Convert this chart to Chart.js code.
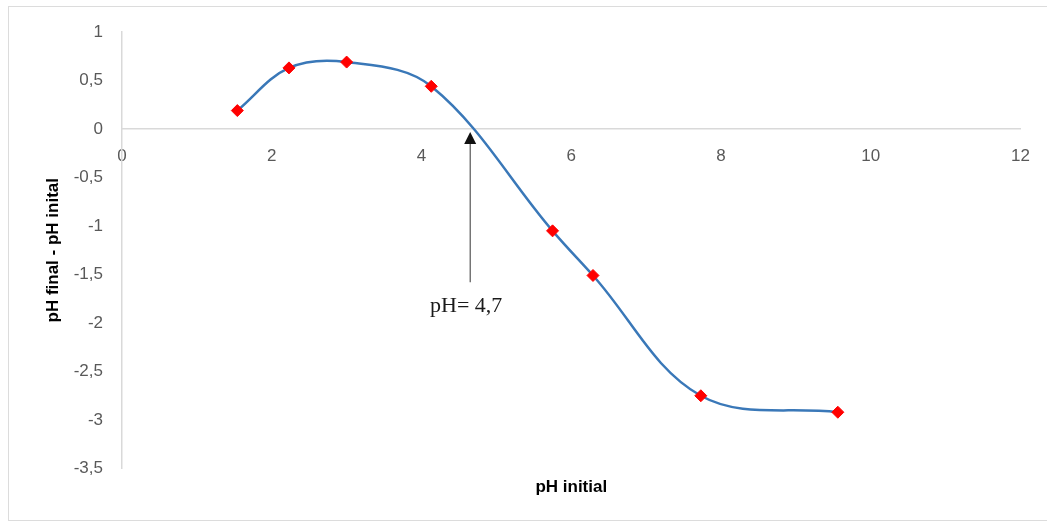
<!DOCTYPE html>
<html>
<head>
<meta charset="utf-8">
<script src="https://cdn.jsdelivr.net/npm/chart.js@4"></script>
<style>
  html, body { margin: 0; padding: 0; background: #fff; overflow: hidden; }
  #wrap { position: relative; width: 1047px; height: 524px; }
  #frame {
    position: absolute; left: 8px; top: 6px; width: 1060px; height: 513px;
    border: 1px solid #dcdcdc; border-right: none;
  }
  canvas { position: absolute; left: 0; top: 0; }
</style>
</head>
<body>
<div id="wrap">
  <div id="frame"></div>
  <canvas id="chart" width="1047" height="524"></canvas>
</div>
<script>
// pH initial vs (pH final - pH initial)
const phInitial = [1.54, 2.23, 3.0, 4.13, 5.75, 6.29, 7.73, 9.56];
const phDelta = [0.19, 0.63, 0.69, 0.44, -1.05, -1.51, -2.75, -2.92];

const xTickValues = [0, 2, 4, 6, 8, 10, 12];
const yTickValues = [1, 0.5, 0, -0.5, -1, -1.5, -2, -2.5, -3, -3.5];

// point of zero charge marker
const pzcX = 4.65;
const pzcArrowEnd = -1.58;
const pzcLabel = 'pH= 4,7';

const tickFont = { family: 'Liberation Sans', size: 17 };
const titleFont = { family: 'Liberation Sans', size: 17, weight: 'bold' };
const comma = v => String(v).replace('.', ',');

const arrowPlugin = {
  id: 'pzcArrow',
  afterDatasetsDraw(chart) {
    const { ctx, scales: { x, y } } = chart;
    const px = x.getPixelForValue(pzcX);
    const tip = y.getPixelForValue(0) + 3;
    const end = y.getPixelForValue(pzcArrowEnd);
    ctx.save();
    ctx.strokeStyle = '#333';
    ctx.fillStyle = '#111';
    ctx.lineWidth = 1;
    ctx.beginPath();
    ctx.moveTo(px, tip + 10);
    ctx.lineTo(px, end);
    ctx.stroke();
    ctx.beginPath();
    ctx.moveTo(px, tip);
    ctx.lineTo(px - 6, tip + 12);
    ctx.lineTo(px + 6, tip + 12);
    ctx.closePath();
    ctx.fill();
    ctx.font = '22px "Liberation Serif"';
    ctx.fillStyle = '#1a1a1a';
    ctx.textAlign = 'center';
    ctx.textBaseline = 'alphabetic';
    ctx.fillText(pzcLabel, px - 4, end + 30);
    ctx.restore();
  }
};

new Chart(document.getElementById('chart'), {
  type: 'scatter',
  data: {
    datasets: [{
      data: phInitial.map((v, i) => ({ x: v, y: phDelta[i] })),
      showLine: true,
      tension: 0.36,
      borderColor: '#3a78b8',
      borderWidth: 2.5,
      pointStyle: 'rectRot',
      pointRadius: 6,
      pointHoverRadius: 6,
      pointBackgroundColor: '#ff0000',
      pointBorderColor: '#ff0000',
      pointBorderWidth: 1
    }]
  },
  options: {
    responsive: false,
    animation: false,
    events: [],
    layout: { padding: { left: 8, top: 32, right: 26, bottom: 4 } },
    plugins: { legend: { display: false }, tooltip: { enabled: false } },
    scales: {
      x: {
        type: 'linear',
        position: { y: 0 },
        min: 0,
        max: 12,
        afterBuildTicks: s => { s.ticks = xTickValues.map(v => ({ value: v })); },
        ticks: { font: tickFont, color: '#595959', padding: 17, callback: comma },
        grid: { display: false, drawTicks: false },
        border: { display: true, color: '#d9d9d9', width: 1.5 }
      },
      x2: {
        type: 'linear',
        position: 'bottom',
        afterFit: s => { s.height = 51.5; },
        ticks: { display: false },
        grid: { display: false, drawTicks: false },
        border: { display: false },
        title: { display: true, text: 'pH initial', font: titleFont, color: '#000', padding: { top: 0, bottom: 22 } }
      },
      y: {
        type: 'linear',
        min: -3.5,
        max: 1,
        afterBuildTicks: s => { s.ticks = yTickValues.map(v => ({ value: v })); },
        afterFit: s => { s.width = 114; },
        ticks: { font: tickFont, color: '#595959', padding: 19, callback: comma },
        grid: { display: false, drawTicks: false },
        border: { display: true, color: '#d9d9d9', width: 1.5 },
        title: { display: true, text: 'pH final - pH inital', font: titleFont, color: '#000', padding: { top: 35, bottom: 0 } }
      }
    }
  },
  plugins: [arrowPlugin]
});
</script>
</body>
</html>
